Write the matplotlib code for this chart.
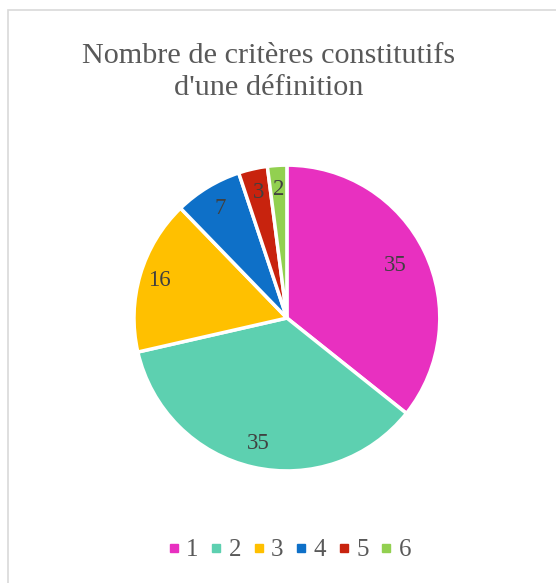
import matplotlib.pyplot as plt
from matplotlib.lines import Line2D
from matplotlib.patches import Rectangle
import numpy as np

categories = ['1', '2', '3', '4', '5', '6']
values = [35, 35, 16, 7, 3, 2]
colors = ['#E830C0', '#5DD0B0', '#FFC000', '#0E70C8', '#C8230E', '#92D050']

plt.rcParams['font.family'] = ['Liberation Serif', 'DejaVu Serif']

fig = plt.figure(figsize=(5.56, 5.83), dpi=100)

# cadre gris autour du graphique
fig.patches.append(Rectangle((8 / 556, -0.01), 1.0, 1 - 9.5 / 583 + 0.01,
                             transform=fig.transFigure, fill=False,
                             edgecolor='#D9D9D9', linewidth=1.2))

ax = fig.add_axes([0.241, 0.192, 0.550, 0.525])
wedges, _ = ax.pie(values, colors=colors, startangle=90, counterclock=False,
                   wedgeprops=dict(edgecolor='white', linewidth=2.5))

# étiquettes de données (distance au centre comme dans Excel)
label_dist = [0.79, 0.84, 0.87, 0.84, 0.84, 0.84]
for w, v, d in zip(wedges, values, label_dist):
    ang = np.deg2rad((w.theta1 + w.theta2) / 2)
    ax.text(d * np.cos(ang), d * np.sin(ang), str(v), ha='center', va='center',
            fontsize=16.5, color='#404040')

ax.set_xlim(-1, 1)
ax.set_ylim(-1, 1)
ax.set_aspect('equal')

fig.text(0.483, 1 - 72 / 583, "Nombre de critères constitutifs\nd'une définition",
         ha='center', va='center', fontsize=21.8, color='#595959', linespacing=1.3)

handles = [Line2D([], [], marker='s', linestyle='', markersize=5.5,
                  markerfacecolor=c, markeredgecolor=c) for c in colors]
fig.legend(handles, categories, loc='center', bbox_to_anchor=(290 / 556, 1 - 550 / 583),
           ncol=6, frameon=False, fontsize=18, handletextpad=0.3,
           columnspacing=0.5, labelcolor='#595959', handlelength=0.4,
           borderpad=0, borderaxespad=0)

fig.savefig('out.png', dpi=100)
